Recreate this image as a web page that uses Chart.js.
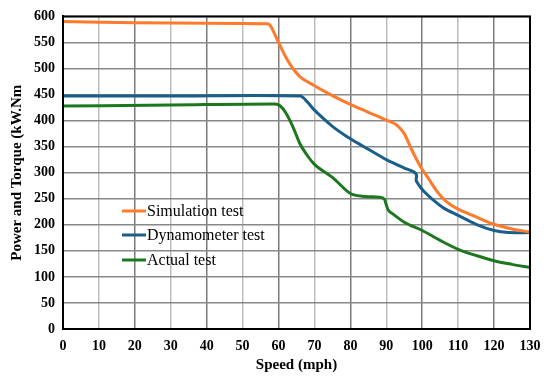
<!DOCTYPE html>
<html><head><meta charset="utf-8">
<script src="https://cdn.jsdelivr.net/npm/chart.js@4.4.1/dist/chart.umd.min.js"></script>
<style>html,body{margin:0;padding:0;background:#fff}#wrap{width:550px;height:385px}</style>
</head><body><div id="wrap"><canvas id="c" width="550" height="385"></canvas></div>
<script>
const seriesLabels = ["Simulation test", "Dynamometer test", "Actual test"];
const xTicks = [0,10,20,30,40,50,60,70,80,90,100,110,120,130];
const yTicks = [0,50,100,150,200,250,300,350,400,450,500,550,600];

const simSpeed = [0,20,40,57,60,62,64,66,70,75,80,85,90,93,95,97,99.5,102,104,106,108,110,113,116,120,125,130];
const simValue = [590,588,587,586,550,522,500,484,467,448,431,416,401,391,375,345,312,286,265,249,238,230,221,212,201,192,186];

const dynSpeed = [0,30,66,68,70,75,80,85,90,95,97.5,98.4,98.3,98.6,99.5,100.5,103,106,110,115,120,124,130];
const dynValue = [447,447,447,436,420,389,365,345,325,309,302,296,286,281,272,264,248,232,218,201,189,185,185];

const actSpeed = [0,30,59,60.5,62,64,66,68,70,75,80,82,85,88,89.5,90,90.5,92,95,100,105,110,115,120,125,130];
const actValue = [428,430,432,428,415,388,355,333,316,291,260,256,254,253,249,238,229,220,205,189,170,153,141,131,124,118];

const colors = ["#FF7A2B", "#1A5E8A", "#1C781E"];
const pts = (xs, ys) => xs.map((x,i)=>({x, y: ys[i]}));

const legendPlugin = {
  id: 'inLegend',
  afterDatasetsDraw(chart) {
    const ctx = chart.ctx;
    ctx.save();
    const ys = [211, 235, 260];
    chart.data.datasets.forEach((ds, i) => {
      ctx.strokeStyle = ds.borderColor;
      ctx.lineWidth = 3;
      ctx.beginPath(); ctx.moveTo(122, ys[i]); ctx.lineTo(146, ys[i]); ctx.stroke();
      ctx.fillStyle = '#000';
      ctx.font = '16px "Liberation Serif", "DejaVu Serif", serif';
      ctx.textBaseline = 'middle';
      ctx.fillText(ds.label, 147, ys[i] + 1);
    });
    ctx.restore();
  }
};
const framePlugin = {
  id: 'frame',
  afterDatasetsDraw(chart) {
    const a = chart.chartArea, ctx = chart.ctx;
    ctx.save();
    ctx.strokeStyle = '#000'; ctx.lineWidth = 2;
    ctx.strokeRect(a.left, a.top, a.right - a.left, a.bottom - a.top);
    ctx.restore();
  }
};

new Chart(document.getElementById('c'), {
  type: 'scatter',
  data: {
    datasets: [
      {label: seriesLabels[0], data: pts(simSpeed, simValue), cubicInterpolationMode:'monotone'},
      {label: seriesLabels[1], data: pts(dynSpeed, dynValue), tension: 0.3},
      {label: seriesLabels[2], data: pts(actSpeed, actValue), cubicInterpolationMode:'monotone'}
    ].map((d,i)=>Object.assign(d, {showLine:true, borderColor:colors[i], backgroundColor:colors[i], borderWidth:3, pointRadius:0}))
  },
  options: {
    responsive: false, animation: false,
    layout: {padding: {top: 14, right: 20, left: 0, bottom: 0}},
    plugins: {legend: {display: false}, tooltip: {enabled: false}},
    scales: {
      x: {
        type: 'linear', min: 0, max: 130,
        afterBuildTicks: s => { s.ticks = xTicks.map(v=>({value:v})); },
        afterFit: s => { s.height = 56; },
        grid: {drawTicks: false, lineWidth: 1.5, color: c => (c.tick && c.tick.value % 20 === 0) ? '#7a7a7a' : '#bdbdbd'},
        border: {color: '#000', width: 2},
        ticks: {padding: 9, color: '#000', font: {family: '"Liberation Serif", serif', size: 14, weight: 'bold'}, maxRotation: 0},
        title: {display: true, text: 'Speed (mph)', color: '#000', font: {family: '"Liberation Serif", serif', size: 15, weight: 'bold'}, padding: {top: 2, bottom: 11}}
      },
      y: {
        type: 'linear', min: 0, max: 600,
        afterBuildTicks: s => { s.ticks = yTicks.map(v=>({value:v})); },
        afterFit: s => { s.width = 63; },
        grid: {drawTicks: false, lineWidth: 1.5, color: '#888'},
        border: {color: '#000', width: 2},
        ticks: {padding: 8, color: '#000', font: {family: '"Liberation Serif", serif', size: 14, weight: 'bold'}},
        title: {display: true, text: 'Power and Torque (kW.Nm', color: '#000', font: {family: '"Liberation Serif", serif', size: 15, weight: 'bold'}, padding: {top: 8, bottom: 0}}
      }
    }
  },
  plugins: [legendPlugin, framePlugin]
});
</script></body></html>
